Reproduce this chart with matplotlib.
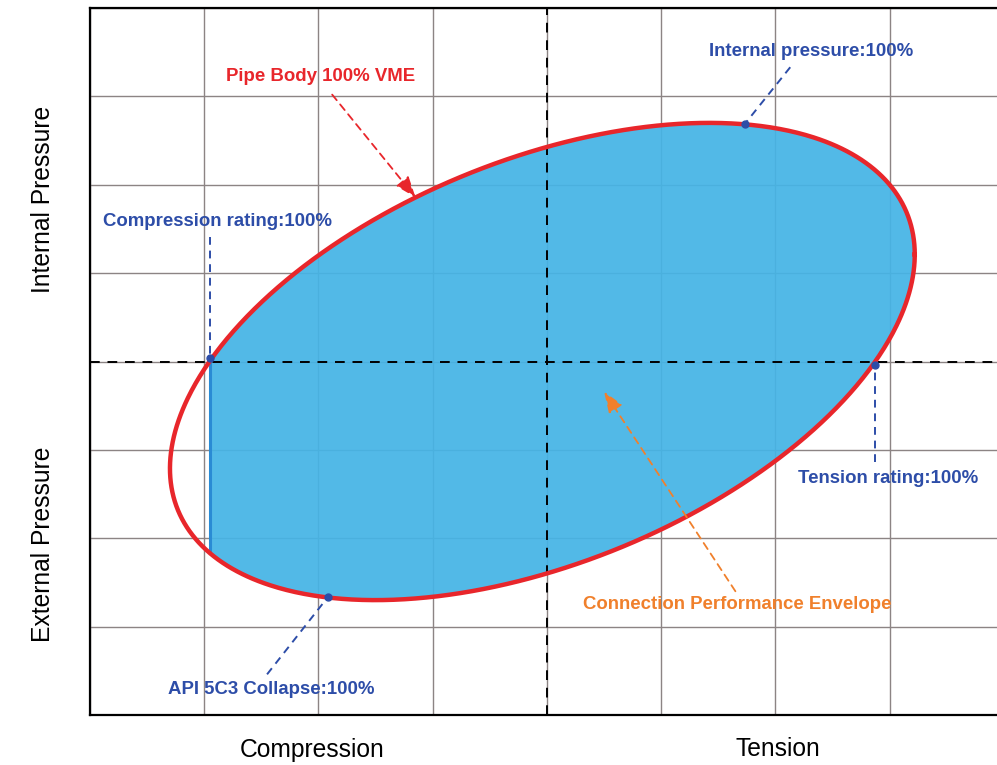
import numpy as np
import matplotlib.pyplot as plt
from matplotlib.patches import Rectangle

plt.rcParams['font.family'] = ['Liberation Sans', 'DejaVu Sans']

# pipe body VME ellipse, in grid units (origin at the zero lines)
vme_center = (-0.04, 0.0)
vme_half_width = 3.26
vme_half_height = 2.70
vme_phase = 1.1057

# grid
x_grid = [-4, -3, -2, -1, 0, 1, 2, 3]
y_grid = [-4, -3, -2, -1, 0, 1, 2, 3, 4]

# annotation texts
vme_label = 'Pipe Body 100% VME'
comp_label = 'Compression rating:100%'
internal_label = 'Internal pressure:100%'
tension_label = 'Tension rating:100%'
collapse_label = 'API 5C3 Collapse:100%'
envelope_label = 'Connection Performance Envelope'

RED = '#e8262b'
BLUE_TXT = '#2d4da8'
FILL = '#45b4e6'
ORANGE = '#f0802c'
GRID = '#8c8484'

cx, cy = vme_center
W, H, d = vme_half_width, vme_half_height, vme_phase


def on_vme(x, upper=True):
    t0 = np.arccos((x - cx) / W)
    t = t0 if upper else -t0
    return x, cy + H * np.cos(t - d)


t = np.linspace(0, 2 * np.pi, 800)
ex = cx + W * np.cos(t)
ey = cy + H * np.cos(t - d)

# ratings where the ellipse crosses zero pressure
comp_x = cx - W * np.sin(d)
tens_x = cx + W * np.sin(d)
comp_low = cy - H * np.sin(2 * d)

fig = plt.figure(figsize=(9.97, 7.65), dpi=100)
ax = fig.add_axes([90 / 997, 1 - 715 / 765, 1 - 90 / 997, 707 / 765])
ax.set_xlim(-4, 3.94)
ax.set_ylim(-4, 4)

ax.set_xticks(x_grid)
ax.set_yticks(y_grid)
ax.tick_params(length=0, labelbottom=False, labelleft=False)
ax.grid(True, color=GRID, lw=1.0, zorder=0)
ax.set_axisbelow(True)
for s in ['left', 'bottom', 'top']:
    ax.spines[s].set_linewidth(1.6)
    ax.spines[s].set_color('black')
ax.spines['right'].set_visible(False)

# connection envelope (ellipse cut at compression rating)
poly = ax.fill(ex, ey, color=FILL, alpha=0.93, lw=0, zorder=1)[0]
clip = Rectangle((comp_x, -5), 10, 10, transform=ax.transData)
poly.set_clip_path(clip)
ax.plot([comp_x, comp_x], [cy, comp_low], color='#2a8bd4', lw=2.2, zorder=2)

# zero lines
ax.axvline(0, color='black', lw=1.4, ls=(0, (5, 4)), zorder=3)
ax.axhline(0, color='black', lw=1.4, ls=(0, (5, 4)), zorder=3)

# VME ellipse
ax.plot(ex, ey, color=RED, lw=3.2, zorder=4)

fs = 13.4


def dashed_arrow(text, txy, tail, tip, color):
    ax.text(txy[0], txy[1], text, color=color, fontsize=fs, fontweight='bold',
            ha='center', va='center', zorder=6)
    ax.annotate('', xy=tip, xytext=tail,
                arrowprops=dict(arrowstyle='-|>,head_length=0.8,head_width=0.3',
                                color=color, lw=1.3, ls=(0, (4, 3)),
                                shrinkA=0, shrinkB=0, mutation_scale=16),
                zorder=5)


def dashed_pointer(text, txy, tail, tip):
    ax.text(txy[0], txy[1], text, color=BLUE_TXT, fontsize=fs, fontweight='bold',
            ha='center', va='center', zorder=6)
    ax.plot([tail[0], tip[0]], [tail[1], tip[1]], color=BLUE_TXT, lw=1.4,
            ls=(0, (4, 3)), zorder=5)
    ax.plot(tip[0], tip[1], 'o', color=BLUE_TXT, ms=5, zorder=5)


dashed_arrow(vme_label, (-1.98, 3.22), (-1.88, 3.02), on_vme(-1.15), RED)
dashed_arrow(envelope_label, (1.67, -2.75), (1.65, -2.60), (0.50, -0.34), ORANGE)

dashed_pointer(comp_label, (-2.88, 1.58), (comp_x, 1.41), (comp_x, 0.04))
dashed_pointer(internal_label, (2.31, 3.51), (2.13, 3.33), on_vme(1.73))
dashed_pointer(tension_label, (2.99, -1.32), (tens_x, -1.14), (tens_x, -0.04))
dashed_pointer(collapse_label, (-2.41, -3.71), (-2.45, -3.54), on_vme(-1.92, upper=False))

# axis captions
fig.text(43 / 997, 1 - 199 / 765, 'Internal Pressure', rotation=90,
         fontsize=17.7, ha='center', va='center')
fig.text(43 / 997, 1 - 544 / 765, 'External Pressure', rotation=90,
         fontsize=17.7, ha='center', va='center')
fig.text(312 / 997, 1 - 750 / 765, 'Compression', fontsize=17.7,
         ha='center', va='center')
fig.text(778 / 997, 1 - 749 / 765, 'Tension', fontsize=17.7,
         ha='center', va='center')

fig.savefig('out.png', dpi=100)
